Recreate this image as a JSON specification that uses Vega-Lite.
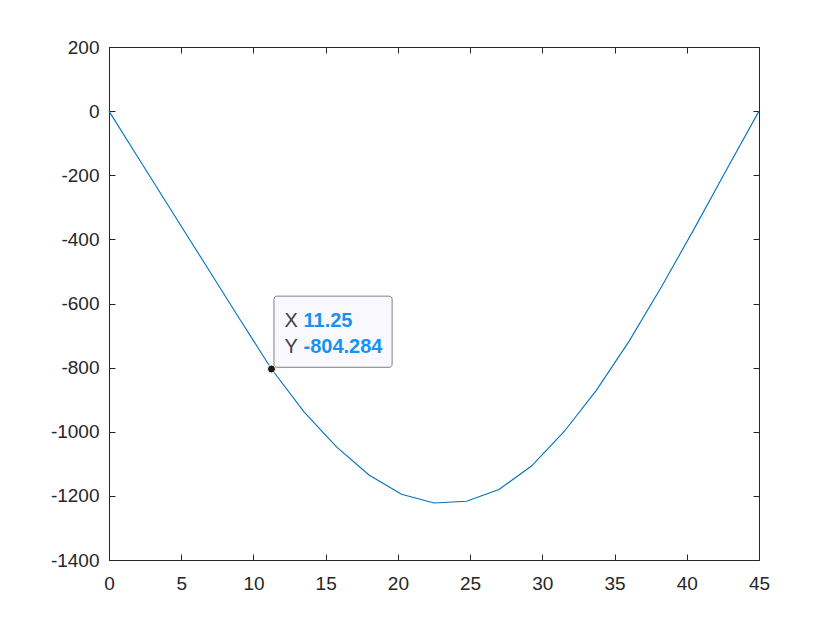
{
  "$schema": "https://vega.github.io/schema/vega-lite/v6.json",
  "width": 650,
  "height": 513,
  "autosize": {"type": "none"},
  "padding": {"left": 109, "top": 47, "right": 81, "bottom": 70},
  "background": "white",
  "config": {
    "view": {"stroke": "#262626", "strokeWidth": 1},
    "axis": {
      "labelFont": "Liberation Sans",
      "labelFontSize": 19,
      "labelColor": "#262626",
      "tickColor": "#262626",
      "domain": false,
      "grid": false,
      "title": null,
      "tickSize": -6,
      "labelFlush": false,
      "labelExpr": "'' + datum.value"
    }
  },
  "datasets": {
    "curve": [
      {"x": 0, "y": 0},
      {"x": 2.25, "y": -162},
      {"x": 4.5, "y": -323},
      {"x": 6.75, "y": -484},
      {"x": 9, "y": -645},
      {"x": 11.25, "y": -804.284},
      {"x": 13.5, "y": -938},
      {"x": 15.75, "y": -1047},
      {"x": 18, "y": -1135},
      {"x": 20.25, "y": -1195},
      {"x": 22.5, "y": -1222},
      {"x": 24.75, "y": -1217},
      {"x": 27, "y": -1180},
      {"x": 29.25, "y": -1107},
      {"x": 31.5, "y": -1000},
      {"x": 33.75, "y": -870},
      {"x": 36, "y": -718},
      {"x": 38.25, "y": -548},
      {"x": 40.5, "y": -368},
      {"x": 42.75, "y": -183},
      {"x": 45, "y": 0}
    ],
    "tip": [
      {"x": 11.25, "y": -804.284, "x1": 11.42, "x2": 19.6, "y1": -577, "y2": -799, "xlabel": "11.25", "ylabel": "-804.284"}
    ]
  },
  "resolve": {"axis": {"x": "independent", "y": "independent"}, "scale": {"x": "shared", "y": "shared"}},
  "layer": [
    {
      "data": {"name": "curve"},
      "mark": {"type": "line", "color": "#0072BD", "strokeWidth": 1.1},
      "encoding": {
        "x": {"field": "x", "type": "quantitative", "scale": {"domain": [0, 45], "nice": false, "zero": false},
          "axis": {"orient": "bottom", "values": [0, 5, 10, 15, 20, 25, 30, 35, 40, 45], "labelPadding": 20}},
        "y": {"field": "y", "type": "quantitative", "scale": {"domain": [-1400, 200], "nice": false, "zero": false},
          "axis": {"orient": "left", "values": [-1400, -1200, -1000, -800, -600, -400, -200, 0, 200], "labelPadding": 16}}
      }
    },
    {
      "data": {"name": "curve"},
      "mark": {"type": "point", "opacity": 0},
      "encoding": {
        "x": {"field": "x", "type": "quantitative",
          "axis": {"orient": "top", "values": [0, 5, 10, 15, 20, 25, 30, 35, 40, 45], "labels": false}},
        "y": {"field": "y", "type": "quantitative",
          "axis": {"orient": "right", "values": [-1400, -1200, -1000, -800, -600, -400, -200, 0, 200], "labels": false}}
      }
    },
    {
      "data": {"name": "tip"},
      "mark": {"type": "rect", "fill": "#f9f9fd", "stroke": "#808080", "strokeWidth": 1, "cornerRadius": 3},
      "encoding": {
        "x": {"field": "x1", "type": "quantitative", "axis": null},
        "x2": {"field": "x2"},
        "y": {"field": "y1", "type": "quantitative", "axis": null},
        "y2": {"field": "y2"}
      }
    },
    {
      "data": {"name": "tip"},
      "mark": {"type": "point", "filled": true, "color": "#1a1a1a", "size": 64, "stroke": "#fff6c8", "strokeWidth": 1, "opacity": 1},
      "encoding": {
        "x": {"field": "x", "type": "quantitative", "axis": null},
        "y": {"field": "y", "type": "quantitative", "axis": null}
      }
    },
    {
      "data": {"name": "tip"},
      "mark": {"type": "text", "text": "X", "align": "left", "baseline": "middle", "dx": 13, "dy": -48, "font": "Liberation Sans", "fontSize": 20, "color": "#404040"},
      "encoding": {
        "x": {"field": "x", "type": "quantitative", "axis": null},
        "y": {"field": "y", "type": "quantitative", "axis": null}
      }
    },
    {
      "data": {"name": "tip"},
      "mark": {"type": "text", "text": "Y", "align": "left", "baseline": "middle", "dx": 13, "dy": -22, "font": "Liberation Sans", "fontSize": 20, "color": "#404040"},
      "encoding": {
        "x": {"field": "x", "type": "quantitative", "axis": null},
        "y": {"field": "y", "type": "quantitative", "axis": null}
      }
    },
    {
      "data": {"name": "tip"},
      "mark": {"type": "text", "align": "left", "baseline": "middle", "dx": 32, "dy": -48, "font": "Liberation Sans", "fontSize": 20, "fontWeight": "bold", "color": "#1792F2"},
      "encoding": {
        "x": {"field": "x", "type": "quantitative", "axis": null},
        "y": {"field": "y", "type": "quantitative", "axis": null},
        "text": {"field": "xlabel"}
      }
    },
    {
      "data": {"name": "tip"},
      "mark": {"type": "text", "align": "left", "baseline": "middle", "dx": 32, "dy": -22, "font": "Liberation Sans", "fontSize": 20, "fontWeight": "bold", "color": "#1792F2"},
      "encoding": {
        "x": {"field": "x", "type": "quantitative", "axis": null},
        "y": {"field": "y", "type": "quantitative", "axis": null},
        "text": {"field": "ylabel"}
      }
    }
  ]
}
